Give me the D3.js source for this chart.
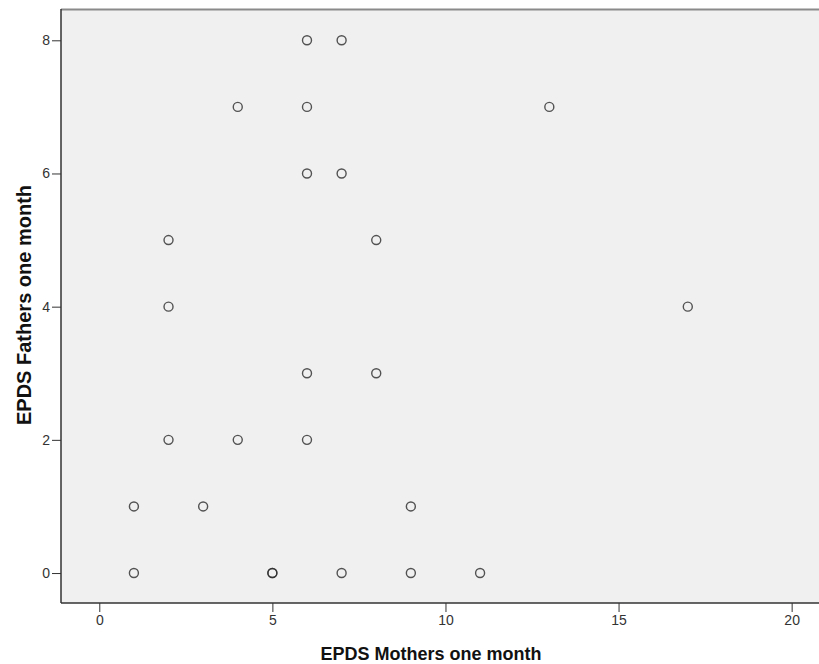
<!DOCTYPE html>
<html>
<head>
<meta charset="utf-8">
<script src="https://cdn.jsdelivr.net/npm/d3@7"></script>
<style>
  body { margin: 0; background: #fff; }
  svg { display: block; font-family: Arial, "Liberation Sans", sans-serif; }
</style>
</head>
<body>
<div id="chart"></div>
<script>
// data
const mothers = [6, 7, 4, 6, 13, 6, 7, 2, 8, 2, 17, 6, 8, 2, 4, 6, 1, 3, 9, 1, 5, 5, 7, 9, 11]
const fathers = [8, 8, 7, 7, 7, 6, 6, 5, 5, 4, 4, 3, 3, 2, 2, 2, 1, 1, 1, 0, 0, 0, 0, 0, 0]
const xTicks = [0, 5, 10, 15, 20]
const yTicks = [0, 2, 4, 6, 8]

const W = 819, H = 664
const margin = { top: 9, right: 0, bottom: 61, left: 61 }
const width  = W - margin.left - margin.right
const height = H - margin.top - margin.bottom

const xScale = d3.scaleLinear().domain([-1.106, 20.79]).range([0, width])
const yScale = d3.scaleLinear().domain([-0.45, 8.47]).range([height, 0])

const svg = d3.select('#chart').append('svg')
    .attr('width', W).attr('height', H)

const g = svg.append('g')
    .attr('transform', `translate(${margin.left},${margin.top})`)

// plot background
g.append('rect')
    .attr('width', width).attr('height', height)
    .attr('fill', '#f0f0f0')

// top frame line
g.append('line')
    .attr('x1', 0).attr('x2', width)
    .attr('y1', 0.5).attr('y2', 0.5)
    .attr('stroke', '#8a8a8a').attr('stroke-width', 2)

// x axis
g.append('g')
    .attr('transform', `translate(0,${height})`)
    .call(d3.axisBottom(xScale).tickValues(xTicks).tickSize(9).tickPadding(3))
    .call(a => a.select('.domain').attr('stroke', '#333').attr('stroke-width', 1.5)
        .attr('d', `M0,0H${width}`))
    .call(a => a.selectAll('.tick line').attr('stroke', '#333'))
    .selectAll('text')
        .style('font-size', '14px')
        .style('fill', '#333')

// y axis
g.append('g')
    .call(d3.axisLeft(yScale).tickValues(yTicks).tickSize(9).tickPadding(2))
    .call(a => a.select('.domain').attr('stroke', '#333').attr('stroke-width', 1.5)
        .attr('d', `M0,0V${height}`))
    .call(a => a.selectAll('.tick line').attr('stroke', '#333'))
    .selectAll('text')
        .style('font-size', '14px')
        .style('fill', '#333')

// points
g.selectAll('.dot')
    .data(mothers.map((m, i) => ({ m: m, f: fathers[i] })))
    .join('circle')
    .attr('class', 'dot')
    .attr('cx', d => xScale(d.m))
    .attr('cy', d => yScale(d.f))
    .attr('r', 4.5)
    .attr('fill', 'none')
    .attr('stroke', '#2a2a2a')
    .attr('stroke-opacity', 0.8)
    .attr('stroke-width', 1.4)

// axis titles
svg.append('text')
    .attr('x', 431).attr('y', 660)
    .attr('text-anchor', 'middle')
    .style('font-size', '18px').style('font-weight', 'bold').style('fill', '#111')
    .text('EPDS Mothers one month')

svg.append('text')
    .attr('transform', 'translate(31,305) rotate(-90)')
    .attr('text-anchor', 'middle')
    .style('font-size', '20px').style('font-weight', 'bold').style('fill', '#111')
    .text('EPDS Fathers one month')
</script>
</body>
</html>
